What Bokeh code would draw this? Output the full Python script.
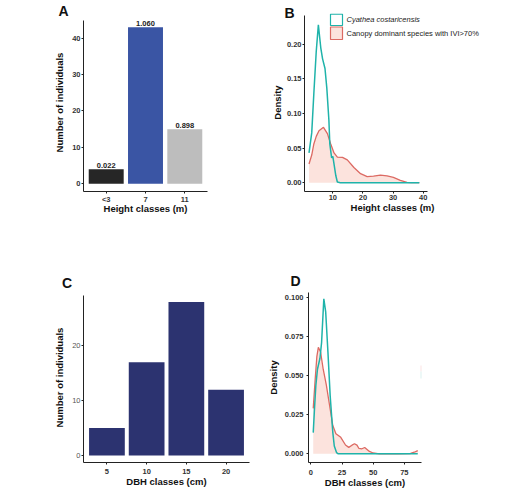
from bokeh.plotting import figure
from bokeh.models import (FactorRange, Range1d, Label, BoxAnnotation, FixedTicker,
                          NumeralTickFormatter, Title)
from bokeh.layouts import column, row
from bokeh.embed import file_html
from bokeh.resources import INLINE
from bokeh.core.properties import value

# ---------------- data ----------------
height_classes = ["<3", "7", "11"]
height_counts = [4, 43, 15]
height_labels = ["0.022", "1.060", "0.898"]

dbh_classes = ["5", "10", "15", "20"]
dbh_counts = [5, 17, 28, 12]

# density of heights (panel B)
b_cyan_x = [2.1, 3.0, 3.7, 4.5, 5.2, 6.0, 6.6, 7.4, 8.0, 8.7, 9.0, 9.6, 10.0, 10.4, 11.0, 11.5, 12.5, 20.0, 30.0, 38.7]
b_cyan_y = [0.043, 0.072, 0.129, 0.19, 0.228, 0.195, 0.179, 0.165, 0.137, 0.090, 0.056, 0.036, 0.038, 0.027, 0.010, 0.001, 0.0, 0.0, 0.0, 0.0]
b_red_x = [2.1, 3.0, 3.7, 4.5, 5.4, 6.9, 8.2, 9.3, 10.4, 11.5, 13.2, 14.8, 17.0, 19.2, 21.4, 23.5, 25.8, 28.0, 30.1, 32.4, 34.6, 36.0, 38.7]
b_red_y = [0.027, 0.040, 0.056, 0.067, 0.075, 0.080, 0.071, 0.056, 0.043, 0.037, 0.0366, 0.033, 0.022, 0.013, 0.0087, 0.0095, 0.011, 0.0098, 0.0077, 0.0035, 0.0004, 0.0, 0.0]

# density of DBH (panel D)
d_cyan_x = [1.9, 3.0, 4.0, 5.3, 7.3, 8.6, 10.4, 11.9, 13.7, 15.5, 17.6, 18.8, 20.6, 22.0, 40.0, 60.0, 85.8]
d_cyan_y = [0.0135, 0.030, 0.0436, 0.054, 0.061, 0.071, 0.099, 0.0906, 0.065, 0.037, 0.0137, 0.005, 0.0008, 0.0, 0.0, 0.0, 0.0]
d_red_x = [1.9, 3.5, 4.8, 6.0, 7.8, 9.9, 12.4, 15.0, 17.6, 20.1, 24.0, 27.8, 30.4, 33.0, 35.0, 37.0, 38.6, 41.0, 43.2, 47.0, 50.0, 55.0, 70.0, 80.0, 83.0, 85.8]
d_red_y = [0.029, 0.048, 0.062, 0.068, 0.065, 0.054, 0.044, 0.031, 0.018, 0.0128, 0.0105, 0.0056, 0.0041, 0.0055, 0.0064, 0.0055, 0.0034, 0.0032, 0.004, 0.0015, 0.0005, 0.0, 0.0, 0.0002, 0.001, 0.002]

legend_labels = ["Cyathea costaricensis", "Canopy dominant species with IVI>70%"]

# ---------------- style ----------------
FONT = "Liberation Sans"
CYAN = "#1fb3aa"
RED = "#dc6a63"
PINK = "#fce3dd"
AXIS = "#222222"


def style(p, xt, yt):
    p.xgrid.visible = False
    p.ygrid.visible = False
    p.outline_line_color = None
    for ax, t in ((p.xaxis[0], xt), (p.yaxis[0], yt)):
        ax.axis_line_color = AXIS
        ax.axis_line_width = 1
        ax.major_tick_line_color = AXIS
        ax.major_tick_out = t[0]
        ax.major_tick_in = 0
        ax.minor_tick_line_color = None
        ax.major_label_standoff = t[1]
        ax.axis_label_standoff = t[2]
        ax.major_label_text_font = FONT
        ax.major_label_text_font_size = "7.5px"
        ax.major_label_text_font_style = "bold"
        ax.major_label_text_color = "#333333"
        ax.axis_label_text_font = FONT
        ax.axis_label_text_font_size = "9.5px"
        ax.axis_label_text_font_style = "bold"
        ax.axis_label_text_color = "#111111"


def letter(p, txt, offset, standoff):
    p.add_layout(Title(text=txt, align="left", vertical_align="middle", offset=offset, standoff=standoff,
                       text_font=FONT, text_font_size="14px", text_font_style="bold",
                       text_color="#111111"), "above")


def sbox(p, l, r, t, b, fill, line):
    p.add_layout(BoxAnnotation(left=l, right=r, top=t, bottom=b, left_units="screen", right_units="screen",
                               top_units="screen", bottom_units="screen", fill_color=fill, fill_alpha=1,
                               line_color=line, line_width=1.2, line_alpha=1 if line else 0))


# ---------------- panel A ----------------
pA = figure(width=264, height=250, output_backend="svg", toolbar_location=None,
            x_range=FactorRange(*height_classes, range_padding=0.052),
            y_range=Range1d(-2.12, 46.79),
            min_border_left=83, min_border_right=57, min_border_top=13, min_border_bottom=59)
pA.vbar(x=height_classes, top=height_counts, bottom=0, width=0.89,
        fill_color=["#262626", "#3a55a4", "#bdbdbd"], line_color=None)
pA.text(x=height_classes, y=height_counts, text=height_labels, text_align="center",
        text_baseline="bottom", y_offset=-1, text_font=value(FONT), text_font_size="7.5px",
        text_font_style="bold", text_color="#222222")
style(pA, xt=(2, 1, -4), yt=(2, 1, 4))
pA.xaxis.axis_label = "Height classes (m)"
pA.yaxis.axis_label = "Number of individuals"
pA.yaxis.ticker = FixedTicker(ticks=[0, 10, 20, 30, 40])
pA.yaxis.bounds = (-2.12, 44.86)
letter(pA, "A", -25, -12)

# ---------------- panel B ----------------
pB = figure(width=264, height=250, output_backend="svg", toolbar_location=None,
            x_range=Range1d(0.6, 59.0), y_range=Range1d(-0.0127, 0.2445),
            min_border_left=40, min_border_right=48, min_border_top=13, min_border_bottom=59)
pB.varea(x=b_red_x, y1=0, y2=b_red_y, fill_color=PINK)
pB.line(b_red_x, b_red_y, line_color=RED, line_width=1.3)
pB.line(b_cyan_x, b_cyan_y, line_color=CYAN, line_width=1.5)
style(pB, xt=(2, 1, -1), yt=(2, 1, 1))
pB.xaxis.axis_label = "Height classes (m)"
pB.yaxis.axis_label = "Density"
pB.xaxis.ticker = FixedTicker(ticks=[10, 20, 30, 40])
pB.yaxis.ticker = FixedTicker(ticks=[0.0, 0.05, 0.10, 0.15, 0.20])
pB.yaxis.formatter = NumeralTickFormatter(format="0.00")
pB.xaxis.bounds = (0.6, 41.4)
pB.yaxis.bounds = (-0.0127, 0.2416)
letter(pB, "B", -20, -16)

# legend (key boxes + labels), placed in screen units from the frame's lower-left corner
sbox(pB, 26, 38, 177.3, 166, "white", CYAN)
sbox(pB, 26, 38, 164.5, 152, PINK, RED)
for lab, fstyle, ly in ((legend_labels[0], "italic", 171.7), (legend_labels[1], "normal", 158.3)):
    pB.add_layout(Label(x=42, y=ly, x_units="screen", y_units="screen", text=lab,
                        text_font=FONT, text_font_size="7.5px", text_font_style=fstyle,
                        text_baseline="middle", text_align="left", text_color="#222222"))

# ---------------- panel C ----------------
pC = figure(width=264, height=245, output_backend="svg", toolbar_location=None,
            x_range=FactorRange(*dbh_classes, range_padding=0.045),
            y_range=Range1d(-1.28, 29.74),
            min_border_left=83, min_border_right=15, min_border_top=42, min_border_bottom=33)
pC.vbar(x=dbh_classes, top=dbh_counts, bottom=0, width=0.9, fill_color="#2c3370", line_color=None)
style(pC, xt=(2, 4, -1), yt=(2, 1, 4))
pC.yaxis.major_label_text_font_style = "normal"
pC.yaxis.major_label_text_color = "#555555"
pC.xaxis.axis_label = "DBH classes (cm)"
pC.yaxis.axis_label = "Number of individuals"
pC.yaxis.ticker = FixedTicker(ticks=[0, 10, 20])
pC.yaxis.bounds = (-1.28, 29.2)
letter(pC, "C", -21.5, 2)

# ---------------- panel D ----------------
pD = figure(width=264, height=245, output_backend="svg", toolbar_location=None,
            x_range=Range1d(-1.9, 88.8), y_range=Range1d(-0.00556, 0.1030),
            min_border_left=39, min_border_right=107, min_border_top=42, min_border_bottom=33)
pD.varea(x=d_red_x, y1=0, y2=d_red_y, fill_color=PINK)
pD.line(d_red_x, d_red_y, line_color=RED, line_width=1.3)
pD.line(d_cyan_x, d_cyan_y, line_color=CYAN, line_width=1.5)
style(pD, xt=(2, 5, -1), yt=(2, 3, 3))
pD.xaxis.axis_label = "DBH classes (cm)"
pD.yaxis.axis_label = "Density"
pD.xaxis.ticker = FixedTicker(ticks=[0, 25, 50, 75])
pD.yaxis.ticker = FixedTicker(ticks=[0.0, 0.025, 0.05, 0.075, 0.10])
pD.yaxis.formatter = NumeralTickFormatter(format="0.000")
letter(pD, "D", -18, 6)
# faint remnant of a clipped legend key
sbox(pD, 112, 119, 97, 91, "#fbe3e3", None)
sbox(pD, 112, 119, 91, 84, "#dcf2f0", None)

layout = column(row(pA, pB), row(pC, pD))
open("out.html", "w").write(file_html(layout, INLINE))
